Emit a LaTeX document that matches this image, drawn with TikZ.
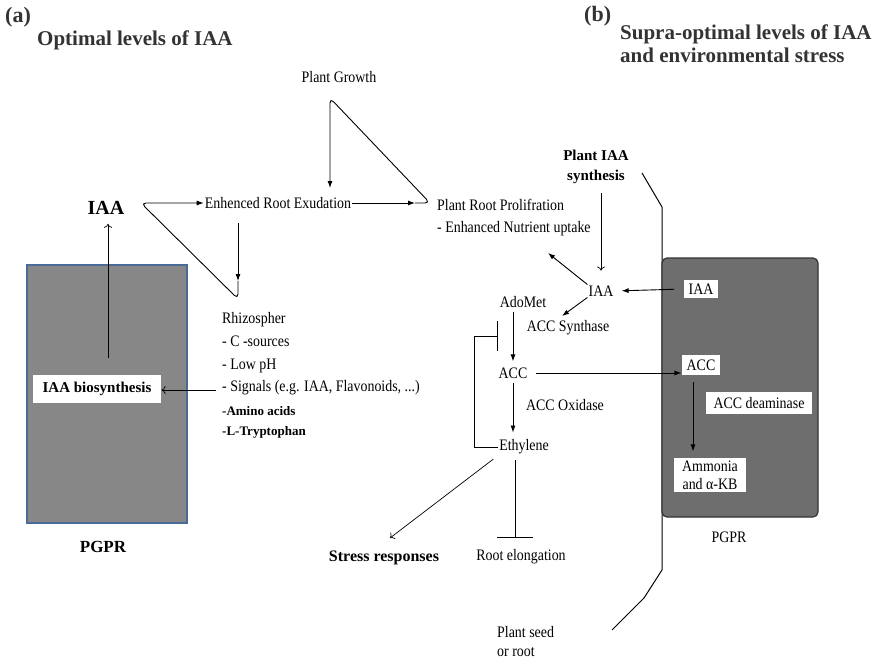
\documentclass[tikz,border=0pt]{standalone}
\usepackage{fontspec}
\setmainfont{Liberation Serif}
\newfontfamily\condfont{Liberation Serif}[FakeStretch=0.87]
\usetikzlibrary{arrows.meta}

\definecolor{boxgrey}{HTML}{878787}
\definecolor{boxblue}{HTML}{4A6A98}
\definecolor{boxdark}{HTML}{6E6E6E}

\begin{document}
\begin{tikzpicture}[x=1pt,y=-1pt,
  txt/.style={font=\condfont\fontsize{16}{18}\selectfont,inner sep=1pt},
  bld/.style={font=\bfseries\fontsize{15}{18}\selectfont,inner sep=1pt},
  ttl/.style={font=\bfseries\fontsize{21}{23}\selectfont,anchor=west,inner sep=0pt,text=black!80},
  wbox/.style={txt,fill=white,inner xsep=5pt,inner ysep=3.5pt},
  arr/.style={-{Latex[length=7pt,width=5pt]},line width=0.9pt},
  thinarr/.style={-{To[length=4pt,width=8pt]},line width=0.7pt},
  inh/.style={-{Bar[width=30pt]},line width=0.9pt},
  inhb/.style={-{Bar[width=36pt]},line width=0.9pt},
  loop/.style={arr,rounded corners=5pt}]
\useasboundingbox (0,0) rectangle (878,661);

% titles
\node[ttl,font=\bfseries\fontsize{22}{24}\selectfont] (labA) at (5,17) {(a)};
\node[ttl] (titA) at (37,40) {Optimal levels of IAA};
\node[ttl,font=\bfseries\fontsize{22}{24}\selectfont] (labB) at (584,16) {(b)};
\node[ttl,align=left] (titB) at (620,43.5) {Supra-optimal levels of IAA\\and environmental stress};

% (a) optimal levels
\node[txt] (pg) at (339,77) {Plant Growth};
\node[txt] (ere) at (278,203) {Enhenced Root Exudation};
\node[bld,font=\bfseries\fontsize{20}{22}\selectfont] (iaaL) at (106,208) {IAA};
\node[txt,anchor=west,align=left,font=\condfont\fontsize{16}{22}\selectfont] (prp) at (436,218)
  {Plant Root Prolifration\\- Enhanced Nutrient uptake};

\node[draw=boxblue,line width=1.8pt,fill=boxgrey,minimum width=160pt,minimum height=258pt,inner sep=0pt] (pgprL) at (107,394) {};
\node[bld,fill=white,inner xsep=10pt,inner ysep=7pt] (biosyn) at (97,389) {IAA biosynthesis};
\node[bld,font=\bfseries\fontsize{17}{19}\selectfont] (pgprLlab) at (103,547) {PGPR};

\node[txt,anchor=west,align=left,font=\condfont\fontsize{16}{22.7}\selectfont] (rhizo) at (221,354)
  {Rhizospher\\- C -sources\\- Low pH\\- Signals (e.g. IAA, Flavonoids, ...)};
\node[anchor=west,align=left,inner sep=1pt,font=\bfseries\fontsize{13}{19.5}\selectfont] (amino) at (221,422.5)
  {-Amino acids\\-L-Tryptophan};

\coordinate (ld) at (238,223);
\coordinate (la) at (238,281);
\coordinate (lb) at (238,299);
\coordinate (lc) at (141,203);
\draw[arr] (ld) -- (la);
\draw[loop] (la) -- (lb) -- (lc) -- (ere.west);

\coordinate (ra) at (415,203);
\coordinate (rb) at (430,203);
\coordinate (rc) at (330,98);
\coordinate (rd) at (330,188);
\draw[arr] (ere.east) -- (ra);
\draw[loop] (ra) -- (rb) -- (rc) -- (rd);

\coordinate (iaasrc) at (108,358);
\draw[thinarr,shorten >=8pt] (iaasrc) -- (iaaL.south -| iaasrc);
\coordinate (sig) at (216,390);
\draw[thinarr] (sig) -- (biosyn.east |- sig);

% (b) supra-optimal levels
\draw[line width=1pt] (642,173) -- (662,207) -- (662,570) -- (644,598) -- (612,630);
\node[draw=black!80,line width=1.2pt,fill=boxdark,rounded corners=5pt,minimum width=156pt,minimum height=259pt,inner sep=0pt] (pgprR) at (740,387.5) {};
\node[wbox] (iaab) at (701,289) {IAA};
\node[wbox,inner ysep=4.5pt] (accb) at (701,365) {ACC};
\node[wbox,inner xsep=8pt,inner ysep=5.5pt] (deam) at (759,403) {ACC deaminase};
\node[wbox,align=center,inner xsep=8pt,inner ysep=3pt,font=\condfont\fontsize{16}{18}\selectfont] (ammo) at (710,475) {Ammonia\\and α-KB};
\node[txt] (pgprRlab) at (729,537) {PGPR};

\node[bld,align=center,font=\bfseries\fontsize{15}{20}\selectfont] (pias) at (596,167) {Plant IAA\\synthesis};
\node[txt] (iaaR) at (601,291) {IAA};
\node[txt] (ado) at (523,302) {AdoMet};
\node[txt] (accs) at (568,328) {ACC Synthase};
\node[txt] (acc) at (513,373) {ACC};
\node[txt] (acco) at (565,405) {ACC Oxidase};
\node[txt] (eth) at (524,447) {Ethylene};
\node[bld,font=\bfseries\fontsize{16}{18}\selectfont] (stress) at (384,558) {Stress responses};
\node[txt] (roote) at (521,557) {Root elongation};
\node[txt,anchor=west,align=left,font=\condfont\fontsize{16}{19}\selectfont] (seed) at (496,642) {Plant seed\\or root};

\draw[thinarr,shorten <=8pt,shorten >=14pt] (pias.south -| iaaR) -- (iaaR.north);
\coordinate (prptip) at (548,253);
\draw[arr] (iaaR.north west) -- (prptip);
\coordinate (acstip) at (562,316);
\draw[arr] (iaaR.south west) -- (acstip);
\draw[arr,shorten <=3pt,shorten >=5pt] (ado.south -| acc) -- (acc.north);
\draw[arr,shorten <=3pt,shorten >=6pt] (acc.south) -- (acc.south |- eth.north);
\coordinate (inhc) at (474,336);
\coordinate (inht) at (498,336);
\draw[inh] (eth.west) -| (inhc) -- (inht);
\draw[arr,shorten <=7pt] (acc.east) -- (accb.west |- acc.east);
\draw[arr,shorten <=9pt,shorten >=7pt] (iaab.west) -- (iaaR.east);
\draw[arr,shorten <=7pt,shorten >=6pt] ([xshift=-8pt]accb.south) -- ([xshift=-8pt]accb.south |- ammo.north);
\coordinate (sttip) at (390,538);
\draw[thinarr,shorten <=6pt] (eth.south west) -- (sttip);
\coordinate (rebar) at (515,538);
\draw[inhb,shorten <=5pt] (eth.south -| rebar) -- (rebar);
\end{tikzpicture}
\end{document}
